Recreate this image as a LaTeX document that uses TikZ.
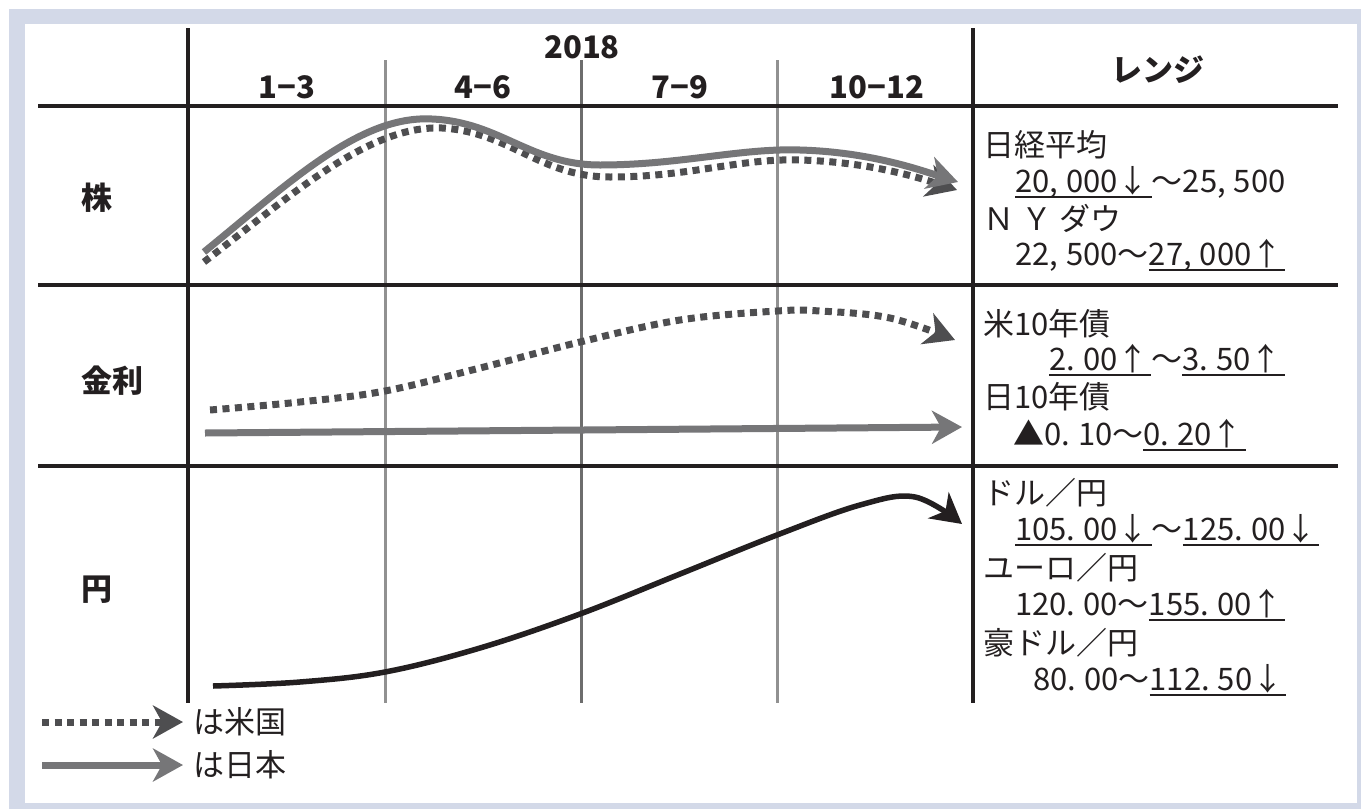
\documentclass[tikz,border=0pt]{standalone}
\usepackage{fontspec}
\setmainfont{Noto Sans CJK JP}
\usetikzlibrary{arrows.meta}
\definecolor{frameblue}{RGB}{211,217,232}
\definecolor{ink}{RGB}{35,31,32}
\definecolor{jpgrey}{RGB}{118,118,120}
\definecolor{usgrey}{RGB}{78,78,80}
\definecolor{gridgrey}{RGB}{145,145,145}
\newcommand\myul[1]{\setbox0\hbox{#1\kern3pt}\rlap{\rule[-6pt]{\wd0}{1.8pt}}\box0}
\newcommand\cm{,\hspace{8pt}}
\newcommand\pd{.\hspace{8pt}}
\tikzset{
  x=1pt, y=-1pt,
  boldhead/.style={font=\fontsize{31}{31}\selectfont\bfseries, text=ink, inner sep=0pt},
  rangetxt/.style={font=\fontsize{31}{31}\selectfont, text=ink, inner sep=0pt, anchor=west},
  mainrule/.style={line width=4.5pt, draw=ink},
  quarter/.style={line width=3pt, draw=gridgrey},
  bigtip/.style={-{Stealth[length=30pt,width=33pt,inset=9pt]}},
  jpline/.style={line width=7pt, draw=jpgrey, bigtip},
  usline/.style={line width=7pt, draw=usgrey, dash pattern=on 7pt off 5.5pt, bigtip},
  fxline/.style={line width=5.5pt, draw=ink, bigtip},
}
\begin{document}
\begin{tikzpicture}
\useasboundingbox (0,0) rectangle (1361,809);
% frame
\fill[frameblue] (9,9) rectangle (1361,809);
\fill[white] (25,24) rectangle (1357,803);
% grid
\draw[quarter] (385,60) -- (385,703);
\draw[quarter, draw=gridgrey!75!black] (581,60) -- (581,703);
\draw[quarter] (777,60) -- (777,703);
\draw[mainrule] (188,28) -- (188,703);
\draw[mainrule] (973,28) -- (973,703);
\draw[mainrule] (38,106) -- (1338,106);
\draw[mainrule] (38,285) -- (1338,285);
\draw[mainrule] (38,466) -- (1338,466);
% headers
\node[boldhead] (yr) at (582,47) {2018};
\node[boldhead] (q1) at (287,87) {1−3};
\node[boldhead] (q2) at (483,87) {4−6};
\node[boldhead] (q3) at (680,87) {7−9};
\node[boldhead] (q4) at (877,87) {10−12};
\node[boldhead] (rng) at (1158,70) {レンジ};
\node[boldhead] (kabu) at (97,198) {株};
\node[boldhead] (kinri) at (112,381) {金利};
\node[boldhead] (en) at (97,590) {円};
% stock curves
\coordinate (us0) at (204,262); \coordinate (us1) at (957,190);
\coordinate (jp0) at (204,252); \coordinate (jp1) at (958,182);
\draw[usline] (us0) .. controls (295,192) and (370,125) .. (442,128)
  .. controls (510,132) and (540,177) .. (610,177)
  .. controls (690,177) and (740,158) .. (800,160)
  .. controls (870,162) and (920,178) .. (us1);
\draw[jpline] (jp0) .. controls (290,182) and (360,115) .. (432,119)
  .. controls (500,122) and (530,165) .. (600,165)
  .. controls (680,165) and (740,148) .. (800,150)
  .. controls (870,152) and (920,170) .. (jp1);
% rates curves
\draw[usline] plot[smooth, tension=0.6] coordinates {(210,410) (300,402) (385,391) (480,368) (580,342) (680,320) (777,311) (820,311) (890,318) (955,340)};
\coordinate (jr0) at (205,433); \coordinate (jr1) at (962,427);
\draw[jpline] (jr0) -- (jr1);
% yen curve
\draw[fxline] plot[smooth, tension=0.6] coordinates {(213,686) (300,682) (385,672) (480,648) (580,614) (680,574) (777,535) (860,505) (915,497) (962,524)};
% legend
\coordinate (lu0) at (42,722);
\coordinate (lu1) at (183,722);
\coordinate (lj0) at (42,765);
\coordinate (lj1) at (183,765);
\draw[usline] (lu0) -- (lu1);
\draw[jpline] (lj0) -- (lj1);
\node[rangetxt] (lus) at (193,722) {は米国};
\node[rangetxt] (ljp) at (193,765) {は日本};
% range texts
\node[rangetxt] (t1) at (983,145) {日経平均};
\node[rangetxt] (t2) at (1015,182) {\myul{20\cm000↓}～25\cm500};
\node[rangetxt] (t3) at (983,218) {Ｎ Ｙ ダウ};
\node[rangetxt] (t4) at (1015,255) {22\cm500～\myul{27\cm000↑}};
\node[rangetxt] (t5) at (983,324) {米10年債};
\node[rangetxt] (t6) at (1049,360) {\myul{2\pd00↑}～\myul{3\pd50↑}};
\node[rangetxt] (t7) at (983,397) {日10年債};
\node[rangetxt] (t8) at (1013,435) {▲0\pd10～\myul{0\pd20↑}};
\node[rangetxt] (t9) at (983,493) {ドル／円};
\node[rangetxt] (t10) at (1015,530) {\myul{105\pd00↓}～\myul{125\pd00↓}};
\node[rangetxt] (t11) at (983,568) {ユーロ／円};
\node[rangetxt] (t12) at (1015,605) {120\pd00～\myul{155\pd00↑}};
\node[rangetxt] (t13) at (983,643) {豪ドル／円};
\node[rangetxt] (t14) at (1033,680) {80\pd00～\myul{112\pd50↓}};
\end{tikzpicture}
\end{document}
